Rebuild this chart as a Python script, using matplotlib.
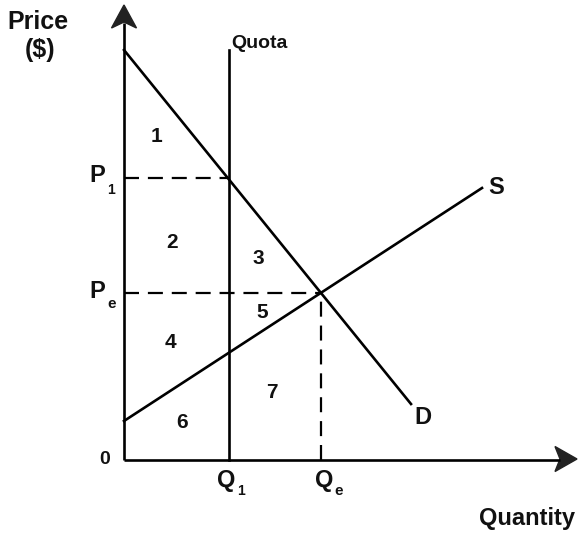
import matplotlib
matplotlib.use("Agg")
import matplotlib.pyplot as plt
from matplotlib.patches import Polygon

plt.rcParams['font.family'] = ['Liberation Sans', 'DejaVu Sans']

# Data (pixel-like units, origin at axes corner)
demand_x = [0, 287]
demand_y = [410, 56]
supply_x = [0, 358]
supply_y = [39, 272]
quota_x = 105
quota_top = 410
q_e = 197
p_e = 167
p_1 = 282
area_labels = ['1', '2', '3', '4', '5', '6', '7']
area_x = [33, 48, 134, 46, 138, 58, 148]
area_y = [323, 217, 202, 118, 147, 38, 67]

fig = plt.figure(figsize=(5.78, 5.35), dpi=100)
ax = fig.add_axes([0, 0, 1, 1])
ax.set_xlim(-124, 578 - 124)
ax.set_ylim(460 - 535, 460)
ax.axis('off')

lw = 1.9
k = 'black'
# axes
ax.plot([0, 0], [0, 437], color=k, lw=lw, solid_capstyle='butt')
ax.plot([0, 436], [0, 0], color=k, lw=lw, solid_capstyle='butt')
ax.add_patch(Polygon([(0, 455), (-12.5, 432), (0, 438), (12.5, 432)], closed=True,
                     facecolor='#222222', edgecolor='#222222', lw=1))
ax.add_patch(Polygon([(453, 1), (431, 13.5), (436, 1), (431, -11.5)], closed=True,
                     facecolor='#222222', edgecolor='#222222', lw=1))

# curves
ax.plot(demand_x, demand_y, color=k, lw=lw)
ax.plot(supply_x, supply_y, color=k, lw=lw)
ax.plot([quota_x, quota_x], [0, quota_top], color=k, lw=lw)

# dashed guides
dash = (0, (6.75, 4.0))
ax.plot([0, quota_x], [p_1, p_1], color=k, lw=1.6, ls=dash)
ax.plot([0, q_e], [p_e, p_e], color=k, lw=1.6, ls=dash)
ax.plot([q_e, q_e], [0, p_e], color=k, lw=1.6, ls=dash)

bold = dict(fontweight='bold', color='#111111')
ax.text(-86, 438, 'Price', fontsize=18, ha='center', va='center', **bold)
ax.text(-84, 410, '($)', fontsize=18, ha='center', va='center', **bold)
ax.text(107, 417, 'Quota', fontsize=14, ha='left', va='center', **bold)

ax.text(-19, 284, 'P', fontsize=17, ha='right', va='center', **bold)
ax.text(-17, 270, '1', fontsize=10, ha='left', va='center', **bold)
ax.text(-19, 169, 'P', fontsize=17, ha='right', va='center', **bold)
ax.text(-17, 156, 'e', fontsize=11, ha='left', va='center', **bold)
ax.text(-19, 0, '0', fontsize=14, ha='center', va='center', **bold)

ax.text(quota_x - 3, -20, 'Q', fontsize=17, ha='center', va='center', **bold)
ax.text(quota_x + 8, -31, '1', fontsize=10, ha='left', va='center', **bold)
ax.text(q_e + 3, -20, 'Q', fontsize=17, ha='center', va='center', **bold)
ax.text(q_e + 13, -31, 'e', fontsize=11, ha='left', va='center', **bold)

ax.text(403, -58, 'Quantity', fontsize=17, ha='center', va='center', **bold)
ax.text(364, 273, 'S', fontsize=17, ha='left', va='center', **bold)
ax.text(290, 42, 'D', fontsize=17, ha='left', va='center', **bold)

for s, x, y in zip(area_labels, area_x, area_y):
    ax.text(x, y, s, fontsize=15, ha='center', va='center', **bold)

fig.savefig('out.png', dpi=100, facecolor='white')
